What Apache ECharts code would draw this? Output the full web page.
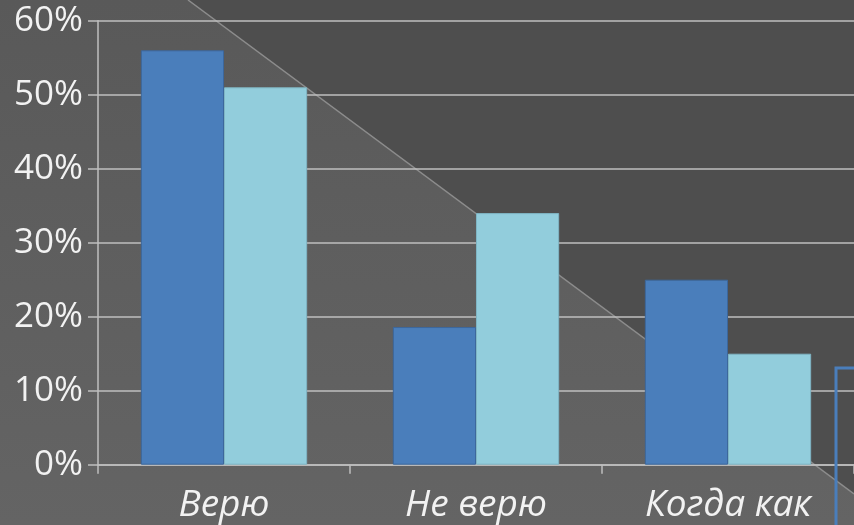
<!DOCTYPE html>
<html><head><meta charset="utf-8">
<script src="https://cdn.jsdelivr.net/npm/echarts@6/dist/echarts.min.js"></script>
<style>html,body{margin:0;padding:0;background:#5e5e5e;}#c{width:854px;height:525px;}</style>
</head><body><div id="c"></div>
<script>
var categories = ['Верю', 'Не верю', 'Когда как'];
var series1 = [56, 18.6, 25];
var series2 = [51, 34, 15];
var yTicks = [0, 10, 20, 30, 40, 50, 60];

var chart = echarts.init(document.getElementById('c'));
chart.setOption({
  backgroundColor: {type:'linear', x:0, y:0, x2:0, y2:1, colorStops:[{offset:0,color:'#595959'},{offset:1,color:'#646464'}]},
  animation: false,
  graphic: [
    {type:'polygon', z:-10, silent:true, shape:{points:[[188,0],[854,0],[854,494]]}, style:{fill:'#4e4e4e'}},
    {type:'line', z:-9, silent:true, shape:{x1:188,y1:0,x2:854,y2:494}, style:{stroke:'#8c8c8c', lineWidth:1.5}},
    {type:'rect', z:100, silent:true, shape:{x:836, y:368, width:60, height:200}, style:{fill:'none', stroke:'#4a7ebb', lineWidth:3}}
  ],
  grid: {left:98, right:0, top:20.7, bottom:60.3, containLabel:false},
  xAxis: {
    type:'category', data:categories,
    axisLine:{lineStyle:{color:'#bfbfbf', width:1.5}},
    axisTick:{show:true, length:9, lineStyle:{color:'#bfbfbf', width:1.5}},
    axisLabel:{color:'#f2f2f2', fontSize:37, fontStyle:'italic', fontFamily:'Open Sans', margin:22}
  },
  yAxis: {
    type:'value', min:yTicks[0], max:yTicks[yTicks.length-1], interval:10,
    axisLine:{show:true, lineStyle:{color:'#bfbfbf', width:1.5}},
    axisTick:{show:true, length:10, lineStyle:{color:'#bfbfbf', width:1.5}},
    splitLine:{lineStyle:{color:'#bfbfbf', width:1.5}},
    axisLabel:{color:'#f2f2f2', fontSize:35, fontFamily:'Open Sans', margin:15, formatter:'{value}%'}
  },
  series: [
    {type:'bar', name:'1', data:series1, barGap:'0%', barCategoryGap:'34%',
     itemStyle:{color:'#4a7ebb', borderColor:'#3c679c', borderWidth:1}},
    {type:'bar', name:'2', data:series2,
     itemStyle:{color:'#92cddc', borderColor:'#7fb5c4', borderWidth:1}}
  ]
});
</script></body></html>
